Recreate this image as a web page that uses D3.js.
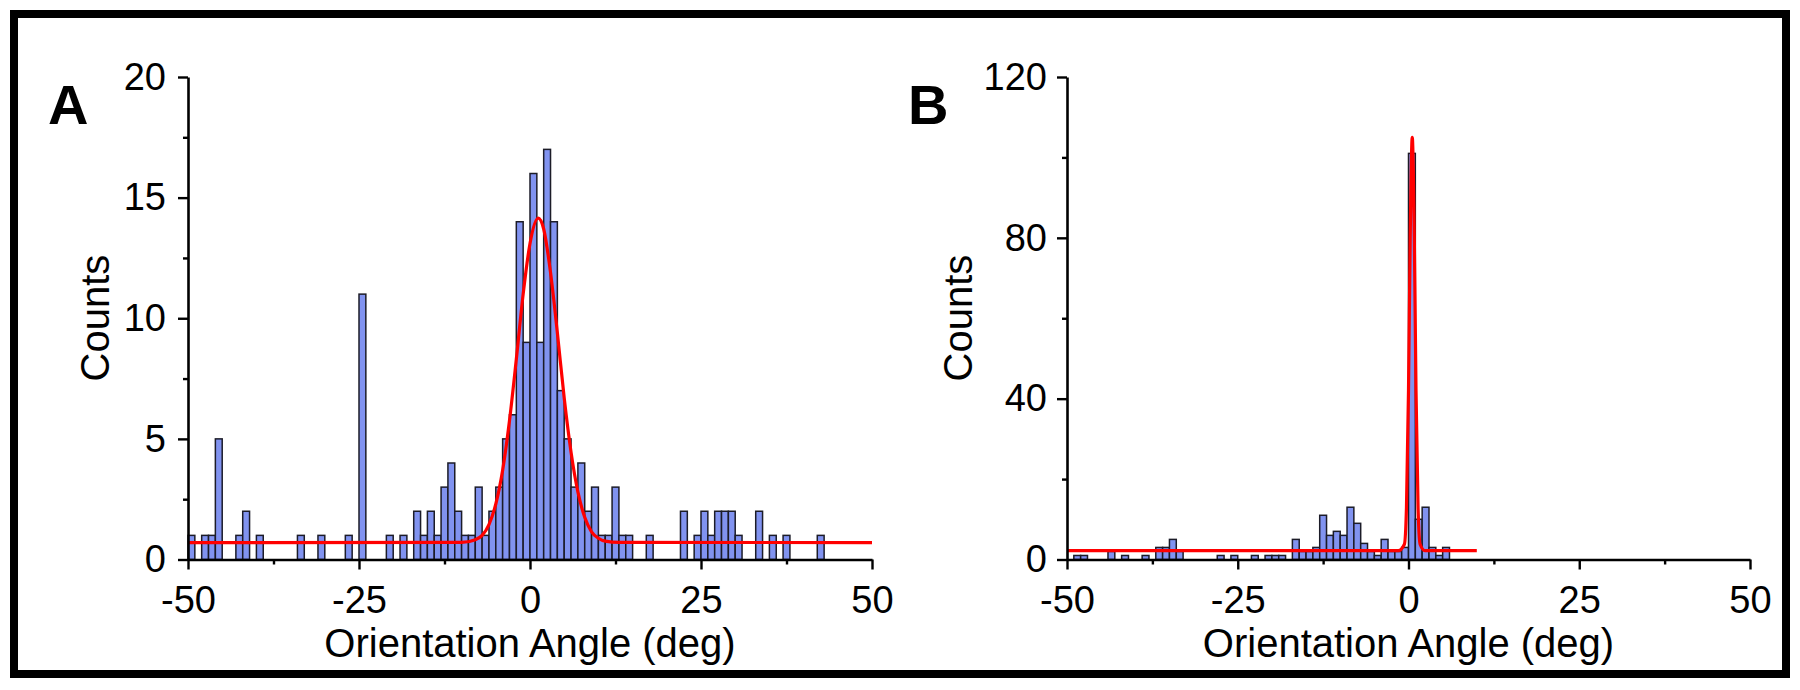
<!DOCTYPE html>
<html>
<head>
<meta charset="utf-8">
<script src="https://cdnjs.cloudflare.com/ajax/libs/d3/7.8.5/d3.min.js"></script>
<style>
  html, body { margin: 0; padding: 0; background: #fff; }
  svg { display: block; font-family: "Liberation Sans", Arial, sans-serif; }
</style>
</head>
<body>
<div id="chart"></div>
<script>
// panel A histogram, 1 deg bins (left edge of bin)
var anglesA = [-50,-48,-47,-46,-43,-42,-40,-34,-31,-27,-25,-21,-19,-17,-16,-15,-14,-13,-12,-11,-10,
  -9,-8,-7,-6,-5,-4,-3,-2,-1,0,1,2,3,4,5,6,7,8,9,10,11,12,13,14,17,22,24,25,26,27,28,29,30,33,35,37,42]
var countsA = [1,1,1,5,1,2,1,1,1,1,11,1,1,2,1,2,1,3,4,2,1,
  1,3,1,2,3,5,6,14,9,16,9,17,14,7,5,3,4,2,3,1,1,3,1,1,1,2,1,2,1,2,2,2,1,2,1,1,1]

// panel B histogram
var anglesB = [-49,-48,-44,-42,-39,-37,-36,-35,-34,-28,-26,-23,-21,-20,-19,
  -17,-16,-15,-14,-13,-12,-11,-10,-9,-8,-7,-6,-5,-4,-3,-2,-1,0,1,2,3,4,5]
var countsB = [1,1,2,1,1,3,3,5,2,1,1,1,1,1,1,
  5,2,2,3,11,6,7,6,13,9,4,2,1,5,2,2,3,101,10,13,3,1,3]

// red fit curves
var fitAngleA = [-50,-10,-8,-7,-6,-5,-4,-3,-2,-1,0,1.2,2,3,4,5,6,7,8,9,10,11,13,50]
var fitCountA = [0.7,0.71,0.82,1.0,1.45,2.3,3.7,5.75,8.3,11.0,13.1,14.15,13.7,11.9,9.4,6.7,4.45,2.8,1.75,1.15,0.88,0.76,0.71,0.7]
var fitAngleB = [-50,-1.5,-0.6,-0.3,0,0.25,0.55,0.85,1.1,1.4,1.7,2.4,10]
var fitCountB = [2.2,2.2,3.8,12.8,42,80,105,80,42,12.8,3.8,2.2,2.2]

// ticks
var xTicks = [-50,-25,0,25,50], xMinor = [-37.5,-12.5,12.5,37.5]
var yTicksA = [0,5,10,15,20], yMinorA = [2.5,7.5,12.5,17.5]
var yTicksB = [0,40,80,120], yMinorB = [20,60,100]

var W = 1800, H = 690

var svg = d3.select('#chart').append('svg')
  .attr('width', W).attr('height', H)

// outer frame
svg.append('rect')
  .attr('x', 14).attr('y', 14).attr('width', 1772).attr('height', 660)
  .attr('fill', 'none').attr('stroke', '#000').attr('stroke-width', 8)

// plain hyphen for negatives, like the original
var fmt = function(d) { return String(d) }

function drawPanel(p) {
  var x = d3.scaleLinear().domain([-50, 50]).range([p.left, p.right])
  var y = d3.scaleLinear().domain([0, p.yMax]).range([559.5, 77])
  var g = svg.append('g')

  // bars
  g.selectAll('rect.bar')
    .data(p.angles.map(function(a, i) { return { a: a, c: p.counts[i] } }))
    .enter().append('rect')
      .attr('class', 'bar')
      .attr('x', function(d) { return x(d.a) })
      .attr('width', function(d) { return x(d.a + 1) - x(d.a) })
      .attr('y', function(d) { return y(d.c) })
      .attr('height', function(d) { return y(0) - y(d.c) })
      .attr('fill', '#8193f0')
      .attr('stroke', '#1c1c28')
      .attr('stroke-width', 1.5)

  // fit curve
  var line = d3.line()
    .x(function(d) { return x(d[0]) })
    .y(function(d) { return y(d[1]) })
    .curve(d3.curveMonotoneX)
  g.append('path')
    .datum(p.fitX.map(function(v, i) { return [v, p.fitY[i]] }))
    .attr('d', line)
    .attr('fill', 'none')
    .attr('stroke', '#ff0000')
    .attr('stroke-width', 3.2)

  // axes
  g.append('g').attr('transform', 'translate(0,' + y(0) + ')')
    .call(d3.axisBottom(x).tickValues(xTicks).tickFormat(fmt).tickSize(10).tickSizeOuter(0).tickPadding(17))
  g.append('g').attr('transform', 'translate(0,' + y(0) + ')')
    .call(d3.axisBottom(x).tickValues(xMinor).tickSize(5).tickFormat(''))
    .select('.domain').remove()

  g.append('g').attr('transform', 'translate(' + x(-50) + ',0)')
    .call(d3.axisLeft(y).tickValues(p.yTicks).tickFormat(fmt).tickSize(10).tickSizeOuter(0).tickPadding(p.yPad))
  g.append('g').attr('transform', 'translate(' + x(-50) + ',0)')
    .call(d3.axisLeft(y).tickValues(p.yMinor).tickSize(5).tickFormat(''))
    .select('.domain').remove()

  g.selectAll('.domain').attr('stroke', '#000').attr('stroke-width', 2.6)
  g.selectAll('.tick line').attr('stroke', '#000').attr('stroke-width', 2.4)
  g.selectAll('.tick text')
    .attr('fill', '#000')
    .style('font-size', '38px')
    .style('font-family', '"Liberation Sans", Arial, sans-serif')

  // titles
  g.append('text')
    .attr('x', (p.left + p.right) / 2).attr('y', 657)
    .attr('text-anchor', 'middle')
    .style('font-size', '40px')
    .text('Orientation Angle (deg)')

  g.append('text')
    .attr('transform', 'translate(' + p.countsX + ',318) rotate(-90)')
    .attr('text-anchor', 'middle')
    .style('font-size', '40px')
    .text('Counts')

  g.append('text')
    .attr('x', p.labelX).attr('y', 124)
    .style('font-size', '56px')
    .style('font-weight', 'bold')
    .text(p.label)
}

drawPanel({ label: 'A', labelX: 48, left: 188, right: 872, yMax: 20,
  angles: anglesA, counts: countsA, fitX: fitAngleA, fitY: fitCountA,
  yTicks: yTicksA, yMinor: yMinorA, yPad: 12, countsX: 109 })

drawPanel({ label: 'B', labelX: 908, left: 1067, right: 1750, yMax: 120,
  angles: anglesB, counts: countsB, fitX: fitAngleB, fitY: fitCountB,
  yTicks: yTicksB, yMinor: yMinorB, yPad: 10, countsX: 972 })
</script>
</body>
</html>
